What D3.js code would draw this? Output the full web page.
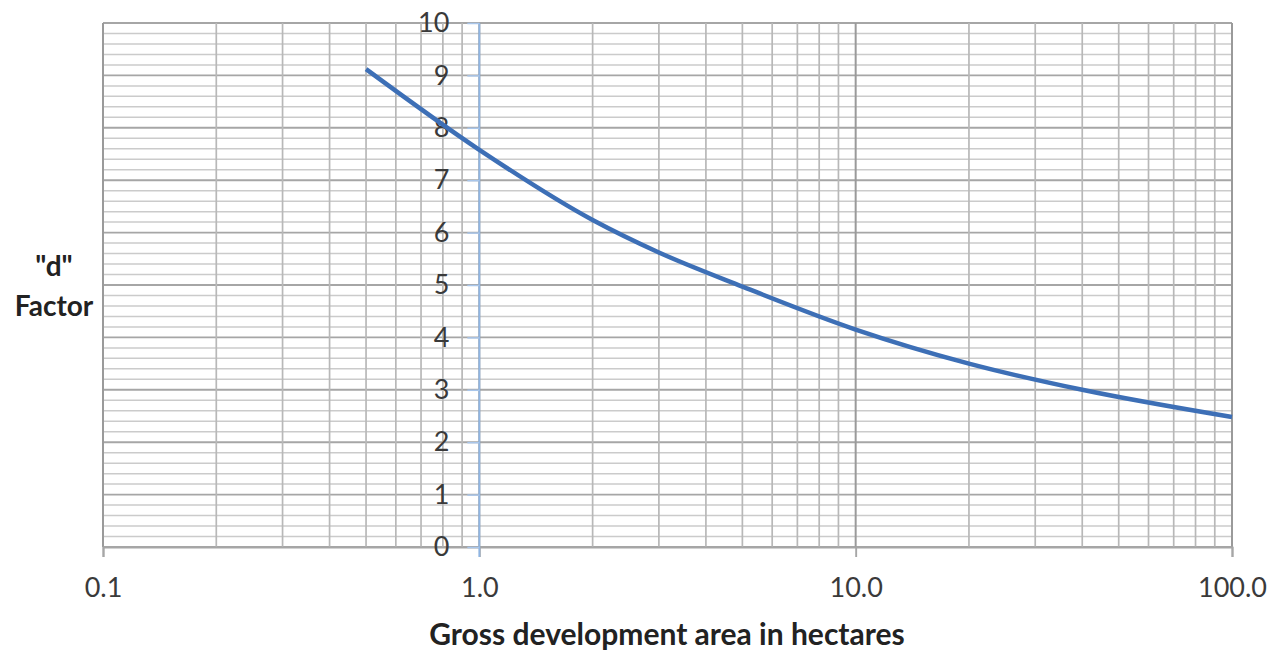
<!DOCTYPE html>
<html>
<head>
<meta charset="utf-8">
<script src="https://cdn.jsdelivr.net/npm/d3@7"></script>
<style>
  html, body { margin: 0; padding: 0; background: #ffffff; }
  svg { display: block; font-family: Lato, "Open Sans", sans-serif; }
</style>
</head>
<body>
<svg id="chart" width="1281" height="650"></svg>
<script>
// Gross development area (ha) and the corresponding "d" factor
const area    = [0.5, 1, 2, 3, 5, 10, 20, 40, 100];
const dFactor = [9.12, 7.58, 6.24, 5.62, 4.97, 4.15, 3.50, 3.0, 2.48];

// Axis ticks and labels
const xTickValues = [0.1, 1, 10, 100];
const yTickValues = [0, 1, 2, 3, 4, 5, 6, 7, 8, 9, 10];
const xTitle = "Gross development area in hectares";
const yTitleLines = ['"d"', "Factor"];

(function () {
  const svg = d3.select("#chart");
  const plotLeft = 103, plotRight = 1232, plotTop = 23, plotBottom = 547;

  const x = d3.scaleLog().domain([0.1, 100]).range([plotLeft, plotRight]);
  const y = d3.scaleLinear().domain([0, 10]).range([plotBottom, plotTop]);

  const grid = svg.append("g");
  const isInt = d => Math.abs(d - Math.round(d)) < 1e-9;

  // Horizontal grid: every 0.2, integer lines darker
  const hLines = d3.range(0, 51).map(i => i / 5);
  grid.selectAll("line.h")
    .data(hLines)
    .join("line")
    .attr("class", "h")
    .attr("x1", plotLeft).attr("x2", plotRight)
    .attr("y1", d => y(d)).attr("y2", d => y(d))
    .attr("stroke", d => isInt(d) ? "#a6a6a6" : "#cbcbcb")
    .attr("stroke-width", d => isInt(d) ? 1.9 : 1.5);

  // Vertical log grid: 1..9 in each decade
  const vLines = [];
  [0.1, 1, 10].forEach(dec => { for (let k = 1; k <= 9; k++) vLines.push(+(dec * k).toPrecision(3)); });
  vLines.push(100);
  grid.selectAll("line.v")
    .data(vLines)
    .join("line")
    .attr("class", "v")
    .attr("x1", d => x(d)).attr("x2", d => x(d))
    .attr("y1", plotTop).attr("y2", plotBottom)
    .attr("stroke", d => xTickValues.includes(d) ? "#9a9a9a" : "#b8b8b8")
    .attr("stroke-width", d => xTickValues.includes(d) ? 2 : 1.7);

  // X axis along d = 0
  const xAxis = svg.append("g")
    .attr("transform", `translate(0,${plotBottom})`)
    .call(d3.axisBottom(x)
      .tickValues(xTickValues)
      .tickFormat(d3.format(".1f"))
      .tickSize(10)
      .tickPadding(21));
  xAxis.select(".domain").attr("stroke", "#a6a6a6").attr("stroke-width", 1.9);
  xAxis.selectAll(".tick line").attr("stroke", "#a6a6a6").attr("stroke-width", 1.9);
  xAxis.selectAll(".tick text")
    .attr("font-size", 27).attr("fill", "#3a3a3a")
    .attr("font-family", "Lato, sans-serif");

  // Y axis crossing at 1.0 ha
  const yAxis = svg.append("g")
    .attr("transform", `translate(${x(1)},0)`)
    .call(d3.axisLeft(y)
      .tickValues(yTickValues)
      .tickFormat(d3.format("d"))
      .tickSize(12)
      .tickSizeOuter(0)
      .tickPadding(18));
  yAxis.select(".domain")
    .attr("d", `M0,${plotTop}V${plotBottom + 10}`)
    .attr("stroke", "#8fb5e3").attr("stroke-width", 1.8);
  yAxis.selectAll(".tick line").attr("stroke", "#a9c6ea").attr("stroke-width", 1.5);
  yAxis.selectAll(".tick text")
    .attr("font-size", 27).attr("fill", "#3a3a3a")
    .attr("font-family", "Lato, sans-serif");

  // Curve
  const pts = area.map((a, i) => [a, dFactor[i]]);
  svg.append("path")
    .datum(pts)
    .attr("fill", "none")
    .attr("stroke", "#3d6fb6")
    .attr("stroke-width", 4.5)
    .attr("d", d3.line().x(d => x(d[0])).y(d => y(d[1])).curve(d3.curveMonotoneX));

  // Titles
  svg.append("text")
    .attr("x", 667).attr("y", 645)
    .attr("text-anchor", "middle")
    .attr("font-size", 30).attr("font-weight", "bold").attr("fill", "#222")
    .text(xTitle);

  svg.append("text")
    .attr("text-anchor", "middle")
    .attr("font-size", 28).attr("font-weight", "bold").attr("fill", "#222")
    .selectAll("tspan")
    .data(yTitleLines)
    .join("tspan")
    .attr("x", 54)
    .attr("y", (d, i) => 276 + i * 40)
    .text(d => d);
})();
</script>
</body>
</html>
